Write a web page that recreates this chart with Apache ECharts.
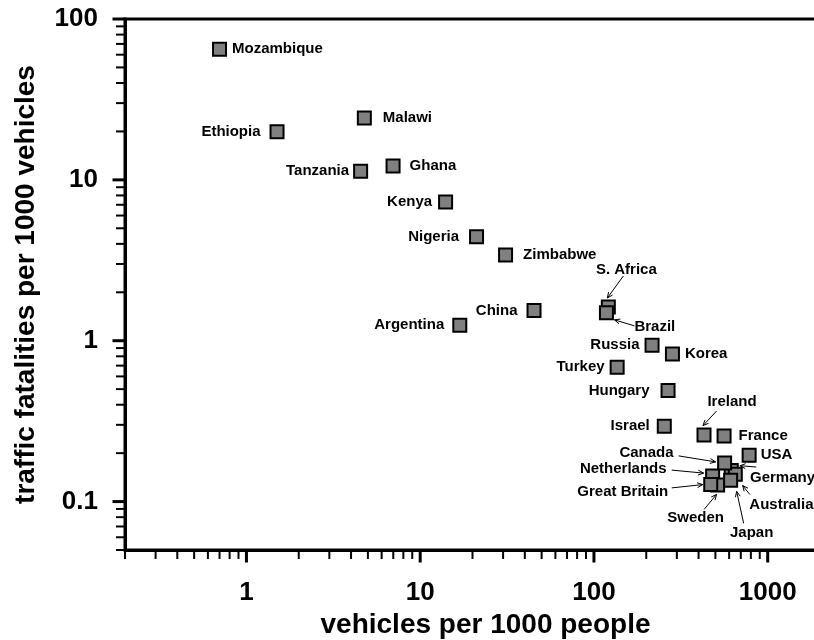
<!DOCTYPE html>
<html>
<head>
<meta charset="utf-8">
<script src="https://cdn.jsdelivr.net/npm/echarts@6/dist/echarts.min.js"></script>
<style>
  html, body { margin: 0; padding: 0; background: #fff; }
  #chart { width: 814px; height: 640px; }
</style>
</head>
<body>
<div id="chart"></div>
<script>
// ---- data ----
const countries = ['Mozambique','Ethiopia','Malawi','Tanzania','Ghana','Kenya','Nigeria','Zimbabwe','China','Argentina',
  'S. Africa','Brazil','Russia','Korea','Turkey','Hungary','Israel','Ireland','France','USA',
  'Netherlands','Sweden','Great Britain','Germany','Australia','Japan','Canada'];
const vehicles = [0.70, 1.50, 4.77, 4.54, 6.98, 14.0, 21.1, 31.0, 45.2, 16.9,
  121, 118, 216, 283, 136, 267, 254, 430, 561, 782,
  482, 515, 470, 617, 651, 612, 565];
const fatalities = [64.9, 19.9, 24.2, 11.3, 12.2, 7.28, 4.43, 3.41, 1.54, 1.25,
  1.62, 1.49, 0.938, 0.828, 0.684, 0.491, 0.294, 0.259, 0.256, 0.194,
  0.144, 0.127, 0.1275, 0.156, 0.148, 0.1355, 0.174];

// ---- axes / ticks ----
const X_MIN = 0.2, X_MAX = 2000;
const Y_MIN = 0.05, Y_MAX = 100;
const xMajorTicks = [1, 10, 100, 1000];
const xTickLabels = ['1', '10', '100', '1000'];
const yMajorTicks = [0.1, 1, 10, 100];
const yTickLabels = ['0.1', '1', '10', '100'];
const xMinorTicks = [0.2,0.3,0.4,0.5,0.6,0.7,0.8,0.9, 2,3,4,5,6,7,8,9, 20,30,40,50,60,70,80,90, 200,300,400,500,600,700,800,900];
const yMinorTicks = [0.05,0.06,0.07,0.08,0.09, 0.2,0.3,0.4,0.5,0.6,0.7,0.8,0.9, 2,3,4,5,6,7,8,9, 20,30,40,50,60,70,80,90];

// ---- label layout (positions/styles, kept separate from data) ----
const FONT = 'Liberation Sans, Arial, sans-serif';
const sideLabels = {
  'Mozambique': ['right', 5], 'Ethiopia': ['left', 9], 'Malawi': ['right', 11], 'Tanzania': ['left', 4],
  'Ghana': ['right', 9], 'Kenya': ['left', 6], 'Nigeria': ['left', 10], 'Zimbabwe': ['right', 10],
  'China': ['left', 9], 'Argentina': ['left', 8], 'Russia': ['left', 5], 'Korea': ['right', 5],
  'Turkey': ['left', 5], 'Hungary': ['left', 11], 'Israel': ['left', 7], 'France': ['right', 7], 'USA': ['right', 4]
};
const arrowLabels = {
  'S. Africa':     { text: [18, -37],   align: 'center', from: [15, -31],   to: [-1, -9] },
  'Brazil':        { text: [28, 14],    align: 'left',   from: [28, 13],    to: [8, 7] },
  'Ireland':       { text: [28, -33],   align: 'center', from: [12.5, -24], to: [-1, -9.5] },
  'Canada':        { text: [-51, -10.5],align: 'right',  from: [-46, -7],   to: [-9, -1] },
  'Netherlands':   { text: [-46, -7],   align: 'right',  from: [-41, -6],   to: [-9, -3] },
  'Great Britain': { text: [-42.5, 7.7],align: 'right',  from: [-39, 3.3],  to: [-8, 0] },
  'Germany':       { text: [18.7, 6.9], align: 'left',   from: [25, -3.5],  to: [8.7, -4.8] },
  'Australia':     { text: [14, 30.3],  align: 'left',   from: [14.6, 20.3],to: [7.3, 11.3] },
  'Sweden':        { text: [-22, 32.8], align: 'center', from: [-13.5, 24.5],to: [-1, 9.5] },
  'Japan':         { text: [21, 53],    align: 'center', from: [13, 43],    to: [6, 11] }
};

function labelFor(list, labels) {
  return function (v) {
    for (let i = 0; i < list.length; i++) {
      if (Math.abs(v - list[i]) / list[i] < 1e-6) return labels[i];
    }
    return '';
  };
}

const chart = echarts.init(document.getElementById('chart'), null, { renderer: 'canvas' });

const scatterData = countries.map((c, i) => {
  const s = sideLabels[c];
  return {
    name: c,
    value: [vehicles[i], fatalities[i]],
    label: s ? { show: true, position: s[0], distance: s[1] } : { show: false }
  };
});

const tickData = [];
xMajorTicks.forEach(v => tickData.push([v, Y_MIN, 0]));
xMinorTicks.forEach(v => tickData.push([v, Y_MIN, 1]));
yMajorTicks.forEach(v => tickData.push([X_MIN, v, 2]));
yMinorTicks.forEach(v => tickData.push([X_MIN, v, 3]));

const annData = [];
countries.forEach((c, i) => { if (arrowLabels[c]) annData.push([vehicles[i], fatalities[i], i]); });

const option = {
  animation: false,
  backgroundColor: '#fff',
  grid: { left: 125, right: -6, top: 19, bottom: 90, show: true, borderColor: '#000', borderWidth: 3,
    containLabel: false, outerBoundsMode: 'none' },
  xAxis: {
    type: 'log', logBase: 10, min: X_MIN, max: X_MAX,
    name: 'vehicles per 1000 people', nameLocation: 'middle', nameGap: 61,
    nameTextStyle: { fontSize: 28, fontWeight: 'bold', color: '#000', fontFamily: FONT, padding: [0, 0, 0, 26] },
    axisLine: { show: true, lineStyle: { color: '#000', width: 3 } },
    axisTick: { show: false },
    splitLine: { show: false },
    minorTick: { show: false },
    axisLabel: { fontSize: 26, fontWeight: 'bold', color: '#000', fontFamily: FONT, margin: 30,
      formatter: labelFor(xMajorTicks, xTickLabels) }
  },
  yAxis: {
    type: 'log', logBase: 10, min: Y_MIN, max: Y_MAX,
    name: 'traffic fatalities per 1000 vehicles', nameLocation: 'middle', nameGap: 85, nameRotate: 90,
    nameTextStyle: { fontSize: 28, fontWeight: 'bold', color: '#000', fontFamily: FONT },
    axisLine: { show: true, lineStyle: { color: '#000', width: 3 } },
    axisTick: { show: false },
    splitLine: { show: false },
    minorTick: { show: false },
    axisLabel: { fontSize: 26, fontWeight: 'bold', color: '#000', fontFamily: FONT, margin: 27,
      formatter: labelFor(yMajorTicks, yTickLabels) }
  },
  series: [
    {
      type: 'custom', name: 'ticks', clip: false, silent: true, z: 1,
      encode: { x: 0, y: 1 },
      data: tickData,
      renderItem: function (params, api) {
        const kind = api.value(2);
        const p = api.coord([api.value(0), api.value(1)]);
        const major = (kind === 0 || kind === 2);
        const len = major ? 12.5 : 9;
        const w = major ? 3 : 2;
        let shape;
        if (kind < 2) shape = { x1: p[0], y1: p[1], x2: p[0], y2: p[1] + len };
        else shape = { x1: p[0], y1: p[1], x2: p[0] - len, y2: p[1] };
        return { type: 'line', shape: shape, style: { stroke: '#000', lineWidth: w } };
      }
    },
    {
      type: 'scatter', name: 'countries', z: 3,
      symbol: 'rect', symbolSize: 13,
      itemStyle: { color: '#808080', borderColor: '#000', borderWidth: 2, opacity: 1 },
      label: { formatter: '{b}', fontSize: 15, fontWeight: 'bold', color: '#000', fontFamily: FONT },
      emphasis: { disabled: true },
      data: scatterData
    },
    {
      type: 'custom', name: 'annotations', clip: false, silent: true, z: 4,
      encode: { x: 0, y: 1 },
      data: annData,
      renderItem: function (params, api) {
        const idx = api.value(2);
        const cfg = arrowLabels[countries[idx]];
        const p = api.coord([api.value(0), api.value(1)]);
        const fx = p[0] + cfg.from[0], fy = p[1] + cfg.from[1];
        const tx = p[0] + cfg.to[0], ty = p[1] + cfg.to[1];
        const ang = Math.atan2(ty - fy, tx - fx);
        const hl = 6, ha = 0.42;
        const h1 = [tx - hl * Math.cos(ang - ha), ty - hl * Math.sin(ang - ha)];
        const h2 = [tx - hl * Math.cos(ang + ha), ty - hl * Math.sin(ang + ha)];
        return {
          type: 'group',
          children: [
            { type: 'text', style: { text: countries[idx], x: p[0] + cfg.text[0], y: p[1] + cfg.text[1],
                align: cfg.align, verticalAlign: 'middle', font: 'bold 15px ' + FONT, fill: '#000' } },
            { type: 'line', shape: { x1: fx, y1: fy, x2: tx, y2: ty }, style: { stroke: '#000', lineWidth: 1 } },
            { type: 'polyline', shape: { points: [h1, [tx, ty], h2] }, style: { stroke: '#000', lineWidth: 1, fill: null } }
          ]
        };
      }
    }
  ]
};
chart.setOption(option);
</script>
</body>
</html>
